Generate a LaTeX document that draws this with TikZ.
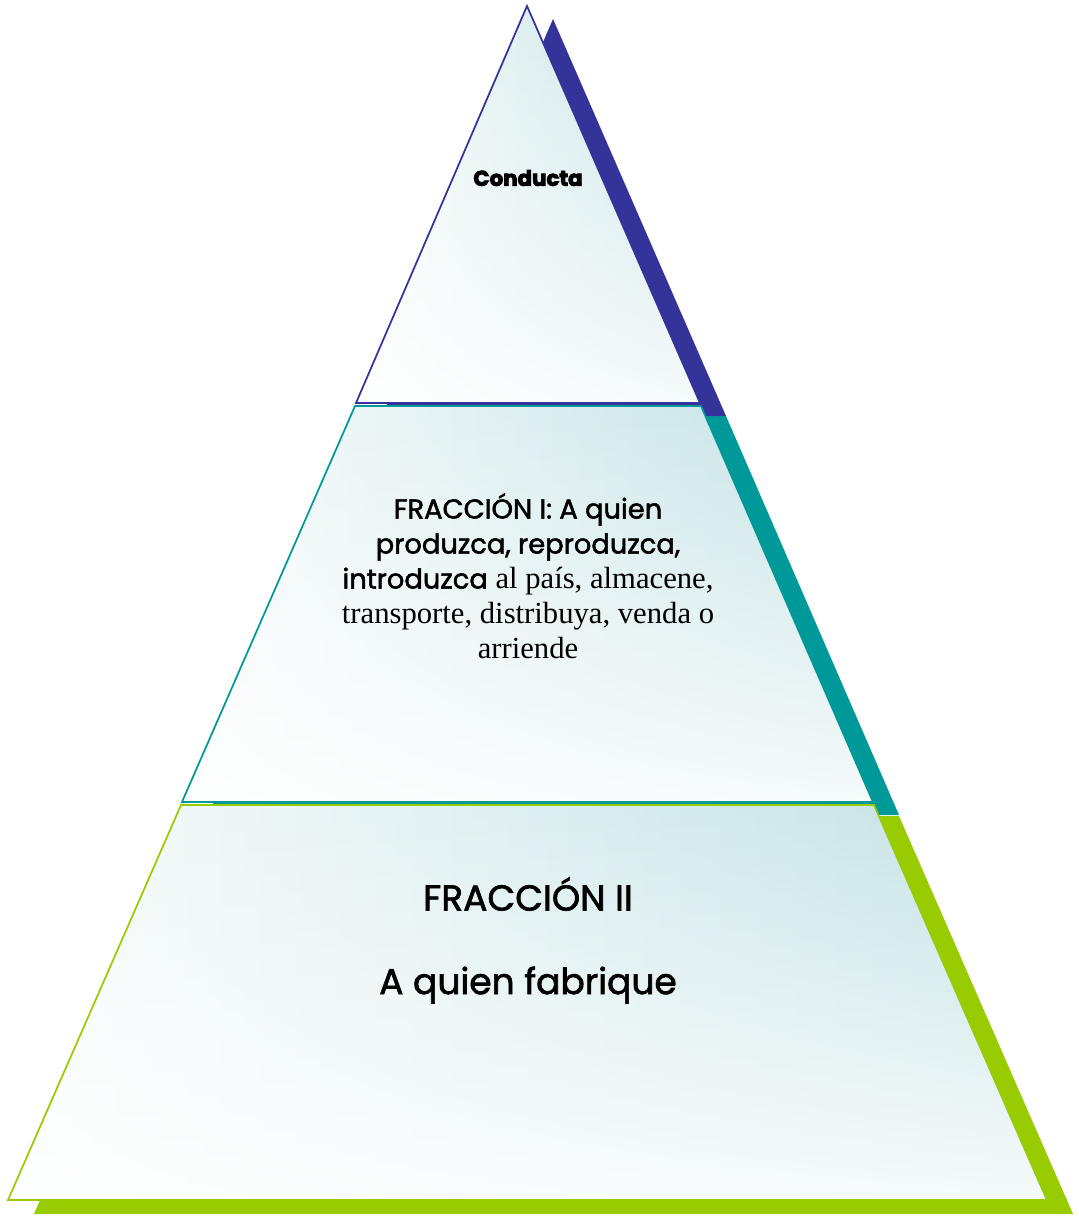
\documentclass[tikz,border=0pt]{standalone}
\usepackage{fontspec}
\setmainfont{Liberation Serif}
\newfontfamily\popf{Poppins}[FakeBold=1.8]
\newfontfamily\popheavy{Poppins}[BoldFeatures={FakeBold=4}]
\usetikzlibrary{fadings}
\definecolor{cblue}{HTML}{333399}
\definecolor{cteal}{HTML}{009999}
\definecolor{cgreen}{HTML}{99CC00}
\definecolor{shL}{HTML}{F9FCFC}
\definecolor{shR}{HTML}{C2E1E4}
\tikzfading[name=fadebottom, top color=transparent!100, bottom color=transparent!15]
\begin{document}
\begin{tikzpicture}[x=0.75pt,y=-0.75pt,
  sect/.style={left color=shL, right color=shR},
  edge/.style={line width=1.3pt, line join=miter},
  txt/.style={inner sep=0pt, align=center}]
\useasboundingbox (0,0) rectangle (1078,1216);
\fill[white] (0,0) rectangle (1078,1216);
\coordinate (A) at (527,6);
\coordinate (B1) at (356,403);
\coordinate (B2) at (700,403);
\coordinate (B1m) at (355,406);
\coordinate (B2m) at (701,406);
\coordinate (C1) at (182,802);
\coordinate (C2) at (873,802);
\coordinate (C1m) at (181,805);
\coordinate (C2m) at (874,805);
\coordinate (D1) at (8,1200);
\coordinate (D2) at (1047,1200);
% shadows
\fill[cgreen] ([shift={(26,14)}]C1) -- ([shift={(26,14)}]C2) -- ([shift={(26,14)}]D2) -- ([shift={(26,14)}]D1) -- cycle;
\fill[cteal] ([shift={(26,13)}]B1) -- ([shift={(26,13)}]B2) -- ([shift={(26,13)}]C2) -- ([shift={(26,13)}]C1) -- cycle;
\fill[cblue] ([shift={(26,13)}]A) -- ([shift={(26,13)}]B2) -- ([shift={(26,13)}]B1) -- cycle;
% bottom section
\fill[sect] (C1m) -- (C2m) -- (D2) -- (D1) -- cycle;
\fill[white, path fading=fadebottom] (C1m) -- (C2m) -- (D2) -- (D1) -- cycle;
\draw[edge, cgreen] (C1m) -- (C2m) -- (D2) -- (D1) -- cycle;
% middle section
\fill[sect] (B1m) -- (B2m) -- (C2) -- (C1) -- cycle;
\fill[white, path fading=fadebottom] (B1m) -- (B2m) -- (C2) -- (C1) -- cycle;
\draw[edge, cteal] (B1m) -- (B2m) -- (C2) -- (C1) -- cycle;
% top section
\fill[sect] (A) -- (B2) -- (B1) -- cycle;
\fill[white, path fading=fadebottom] (A) -- (B2) -- (B1) -- cycle;
\draw[edge, cblue] (A) -- (B2) -- (B1) -- cycle;
% texts
\node[txt, font=\popheavy\bfseries\fontsize{16}{20}\selectfont] (t1) at (528,178) {Conducta};
\node[txt, font=\fontsize{23}{26.25}\selectfont] (t2) at (528,576)
  {{\popf\fontsize{20.5}{26.25}\selectfont FRACCIÓN I: A quien}\\
   {\popf\fontsize{20.5}{26.25}\selectfont produzca, reproduzca,}\\
   {\popf\fontsize{20.5}{26.25}\selectfont introduzca} al país, almacene,\\
   transporte, distribuya, venda o\\
   arriende};
\node[txt, font=\popf\fontsize{27}{30}\selectfont] (t3) at (528,894) {FRACCIÓN II};
\node[txt, font=\popf\fontsize{27}{30}\selectfont] (t4) at (528,985) {A quien fabrique};
\end{tikzpicture}
\end{document}
